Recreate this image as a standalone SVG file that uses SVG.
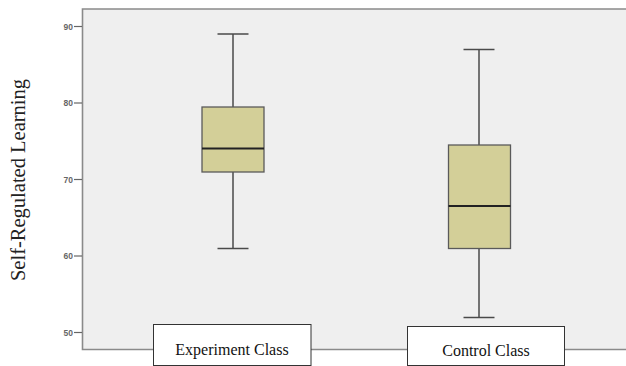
<svg xmlns="http://www.w3.org/2000/svg" width="626" height="366" viewBox="0 0 626 366">
<style>
.axis{stroke:#8a8a8a;stroke-width:1.6;fill:none}
.tick{stroke:#666;stroke-width:1.2}
.tl{font-family:"Liberation Sans",Arial,sans-serif;font-size:8.5px;fill:#666;font-weight:bold;text-anchor:end}
.box{fill:#d3cf98;stroke:#5a5a5a;stroke-width:1.3}
.wh{stroke:#4a4a4a;stroke-width:1.5;fill:none}
.med{stroke:#222;stroke-width:2.2}
.lbox{fill:#fff;stroke:#333;stroke-width:1}
.lt{font-family:"Liberation Serif","Times New Roman",serif;font-size:16px;fill:#111;text-anchor:middle}
</style>
<rect x="0" y="0" width="626" height="366" fill="#fff"/>
<rect x="82.5" y="9" width="543.5" height="340.5" fill="#efefef"/>
<g id="axes">
<path class="axis" d="M626 9 H82.5 V349.5 H626"/>
<line class="tick" x1="74" y1="26.5" x2="82" y2="26.5"/>
<line class="tick" x1="74" y1="103" x2="82" y2="103"/>
<line class="tick" x1="74" y1="179.5" x2="82" y2="179.5"/>
<line class="tick" x1="74" y1="256" x2="82" y2="256"/>
<line class="tick" x1="74" y1="332.5" x2="82" y2="332.5"/>
<text class="tl" x="73" y="29.5">90</text>
<text class="tl" x="73" y="106">80</text>
<text class="tl" x="73" y="182.5">70</text>
<text class="tl" x="73" y="259">60</text>
<text class="tl" x="73" y="335.5">50</text>
<text font-family="'Liberation Serif','Times New Roman',serif" font-size="20.5" fill="#222" text-anchor="middle" transform="translate(24.5,180) rotate(-90)">Self-Regulated Learning</text>
</g>
<g id="experiment">
<line class="wh" x1="233" y1="34" x2="233" y2="107"/>
<line class="wh" x1="217.5" y1="34" x2="248.5" y2="34"/>
<line class="wh" x1="233" y1="172" x2="233" y2="248.5"/>
<line class="wh" x1="217.5" y1="248.5" x2="248.5" y2="248.5"/>
<rect class="box" x="202" y="107" width="62" height="65"/>
<line class="med" x1="202" y1="148.5" x2="264" y2="148.5"/>
</g>
<g id="control">
<line class="wh" x1="479" y1="49.5" x2="479" y2="145"/>
<line class="wh" x1="463.5" y1="49.5" x2="494.5" y2="49.5"/>
<line class="wh" x1="479" y1="248.5" x2="479" y2="317.5"/>
<line class="wh" x1="463.5" y1="317.5" x2="494.5" y2="317.5"/>
<rect class="box" x="448.5" y="145" width="62" height="103.5"/>
<line class="med" x1="448.5" y1="206" x2="510.5" y2="206"/>
</g>
<g id="label-experiment">
<rect class="lbox" x="153.5" y="324.5" width="157.5" height="41"/>
<text class="lt" x="232" y="355">Experiment Class</text>
</g>
<g id="label-control">
<rect class="lbox" x="407.5" y="326.5" width="157" height="39"/>
<text class="lt" x="486" y="355.5">Control Class</text>
</g>
</svg>
